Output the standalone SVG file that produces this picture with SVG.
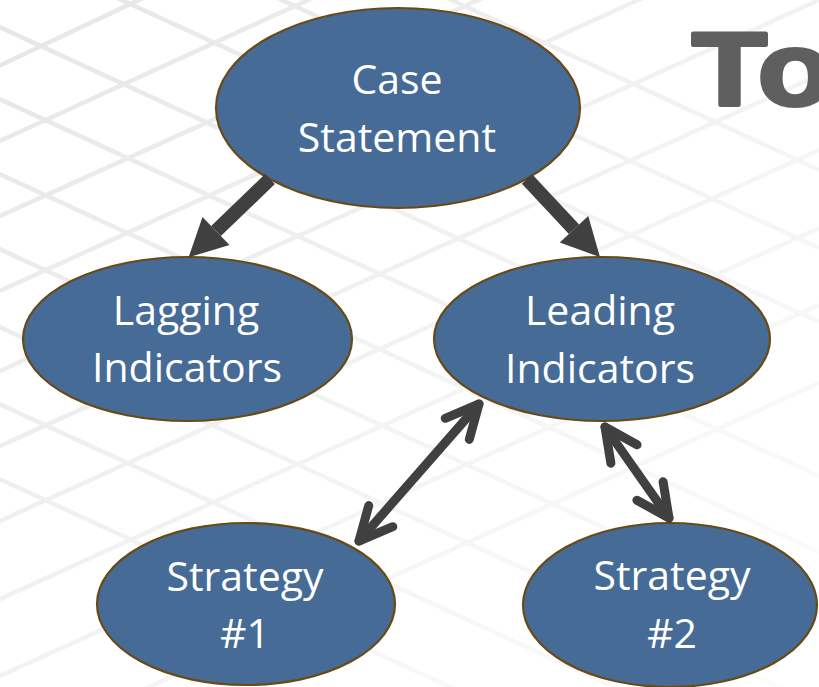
<svg xmlns="http://www.w3.org/2000/svg" width="819" height="687" viewBox="0 0 819 687">
<style>
.node ellipse{fill:#456B96;stroke:#6A4A14;stroke-width:2.2}
.node text{font-family:"Open Sans","Noto Sans",sans-serif;font-size:41px;fill:#ffffff;text-anchor:middle}
.fat{stroke:#404040;stroke-width:14;fill:none}
.thin{stroke:#404040;stroke-width:9;fill:none;stroke-linecap:round}
.bg line{stroke:#e6e6e6;stroke-width:4.5}
</style>
<defs>
<marker id="head" markerUnits="userSpaceOnUse" markerWidth="40" markerHeight="40" viewBox="0 0 40 40" refX="0" refY="19.5" orient="auto" overflow="visible">
<path d="M0,0 L38,19.5 L0,39 Z" fill="#404040"/>
</marker>
<marker id="chev" markerUnits="userSpaceOnUse" markerWidth="50" markerHeight="50" viewBox="-40 -20 50 40" refX="0" refY="0" orient="auto-start-reverse" overflow="visible">
<path d="M-33,-16 L0,0 L-33,16" fill="none" stroke="#404040" stroke-width="9" stroke-linecap="round" stroke-linejoin="round"/>
</marker>
<linearGradient id="fade" x1="0" y1="0" x2="1" y2="1">
<stop offset="0" stop-color="#fff" stop-opacity="1"/>
<stop offset="0.55" stop-color="#fff" stop-opacity="0.45"/>
<stop offset="1" stop-color="#fff" stop-opacity="0.1"/>
</linearGradient>
<mask id="bgmask"><rect width="819" height="687" fill="url(#fade)"/></mask>
</defs>
<rect width="819" height="687" fill="#ffffff"/>
<g class="bg" mask="url(#bgmask)">
<line x1="-20" y1="18" x2="700" y2="350"/>
<line x1="-20" y1="90" x2="819" y2="476"/>
<line x1="-20" y1="165" x2="819" y2="552"/>
<line x1="-20" y1="240" x2="819" y2="627"/>
<line x1="-20" y1="318" x2="819" y2="705"/>
<line x1="-20" y1="395" x2="700" y2="727"/>
<line x1="-20" y1="470" x2="500" y2="710"/>
<line x1="100" y1="-10" x2="819" y2="322"/>
<line x1="260" y1="-10" x2="819" y2="248"/>
<line x1="430" y1="-10" x2="819" y2="170"/>
<line x1="-20" y1="75" x2="160" y2="-10"/>
<line x1="-20" y1="150" x2="330" y2="-10"/>
<line x1="-20" y1="225" x2="500" y2="-10"/>
<line x1="-20" y1="300" x2="660" y2="-10"/>
<line x1="-20" y1="380" x2="819" y2="0"/>
<line x1="-20" y1="455" x2="819" y2="75"/>
<line x1="-20" y1="530" x2="819" y2="150"/>
<line x1="-20" y1="608" x2="819" y2="228"/>
<line x1="-20" y1="685" x2="819" y2="305"/>
<line x1="120" y1="700" x2="819" y2="383"/>
</g>
<text transform="translate(692,105) scale(1.18,1)" x="0" y="0" font-family="'Liberation Sans',Arial,sans-serif" font-weight="bold" font-size="104" fill="#5F5F5F" stroke="#5F5F5F" stroke-width="4" stroke-linejoin="round">To</text>
<g id="n-case" class="node">
<ellipse cx="398" cy="108" rx="182" ry="100"/>
<text x="397" y="94">Case</text>
<text x="397" y="152">Statement</text>
</g>
<g id="n-lagging" class="node">
<ellipse cx="187.5" cy="339" rx="164.5" ry="82"/>
<text x="186" y="325">Lagging</text>
<text x="187" y="382">Indicators</text>
</g>
<g id="n-leading" class="node">
<ellipse cx="602" cy="339" rx="168" ry="82"/>
<text x="600" y="325">Leading</text>
<text x="600" y="383">Indicators</text>
</g>
<g id="n-s1" class="node">
<ellipse cx="246" cy="604" rx="149" ry="81"/>
<text x="245" y="591">Strategy</text>
<text x="245" y="648">#1</text>
</g>
<g id="n-s2" class="node">
<ellipse cx="670" cy="605" rx="147" ry="82"/>
<text x="672" y="590">Strategy</text>
<text x="672" y="648">#2</text>
</g>
<g id="connectors">
<line class="fat" x1="270" y1="179" x2="216" y2="231" marker-end="url(#head)"/>
<line class="fat" x1="527" y1="179" x2="574" y2="229.3" marker-end="url(#head)"/>
<line class="thin" x1="359" y1="541" x2="479" y2="404" marker-start="url(#chev)" marker-end="url(#chev)"/>
<line class="thin" x1="605" y1="427" x2="669" y2="518" marker-start="url(#chev)" marker-end="url(#chev)"/>
</g>
</svg>
